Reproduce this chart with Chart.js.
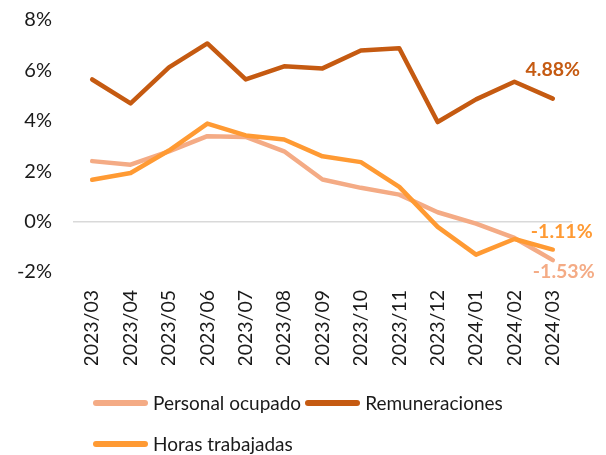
<!DOCTYPE html>
<html>
<head>
<meta charset="utf-8">
<script src="https://cdn.jsdelivr.net/npm/chart.js@4.4.1/dist/chart.umd.min.js"></script>
<style>
  html, body { margin: 0; padding: 0; background: #fff; }
  #wrap { position: relative; width: 606px; height: 455px; }
  #legend { position: absolute; left: 93px; top: 382px; width: 470px; display: flex; flex-wrap: wrap;
            font-family: Lato, "Open Sans", sans-serif; font-size: 19px; color: #1a1a1a; }
  .item { display: flex; align-items: center; height: 41px; margin-right: 4px; }
  .swatch { width: 55px; height: 6px; border-radius: 3px; margin-right: 5px; }
</style>
</head>
<body>
<div id="wrap">
  <canvas id="c" width="606" height="455"></canvas>
  <div id="legend"></div>
</div>
<script>
const categories = ["2023/03","2023/04","2023/05","2023/06","2023/07","2023/08","2023/09","2023/10","2023/11","2023/12","2024/01","2024/02","2024/03"];
const personalOcupado = [2.40, 2.26, 2.79, 3.39, 3.36, 2.79, 1.67, 1.34, 1.07, 0.37, -0.08, -0.65, -1.53];
const remuneraciones = [5.64, 4.69, 6.12, 7.07, 5.64, 6.16, 6.08, 6.79, 6.88, 3.95, 4.85, 5.55, 4.88];
const horasTrabajadas = [1.66, 1.93, 2.82, 3.89, 3.42, 3.26, 2.59, 2.36, 1.38, -0.21, -1.31, -0.69, -1.11];
const yTicks = [-2, 0, 2, 4, 6, 8];

const lastValuePlugin = {
  id: 'lastValue',
  afterDatasetsDraw(chart) {
    const ctx = chart.ctx;
    ctx.save();
    ctx.font = 'bold 19.5px Lato, "Open Sans", sans-serif';
    ctx.textBaseline = 'middle';
    chart.data.datasets.forEach((ds, i) => {
      const meta = chart.getDatasetMeta(i);
      const pt = meta.data[meta.data.length - 1];
      const v = ds.data[ds.data.length - 1];
      const txt = v.toFixed(2) + '%';
      ctx.fillStyle = ds.borderColor;
      let x = pt.x, y = pt.y;
      if (ds.labelPos === 'above') { ctx.textAlign = 'center'; y -= 29; }
      else if (ds.labelPos === 'right') { ctx.textAlign = 'left'; x -= 22; y -= 18; }
      else { ctx.textAlign = 'left'; x -= 20; y += 12; }
      ctx.fillText(txt, x, y);
    });
    ctx.restore();
  }
};

const chart = new Chart(document.getElementById('c'), {
  type: 'line',
  data: {
    labels: categories,
    datasets: [
      { label: 'Personal ocupado', data: personalOcupado, borderColor: '#F4AB85', backgroundColor: '#F4AB85', order: 2, labelPos: 'below' },
      { label: 'Remuneraciones', data: remuneraciones, borderColor: '#C55A11', backgroundColor: '#C55A11', order: 1, labelPos: 'above' },
      { label: 'Horas trabajadas', data: horasTrabajadas, borderColor: '#FF9A33', backgroundColor: '#FF9A33', order: 0, labelPos: 'right' }
    ]
  },
  options: {
    responsive: false,
    animation: false,
    elements: {
      line: { borderWidth: 4.5, tension: 0, borderCapStyle: 'round', borderJoinStyle: 'round' },
      point: { radius: 0, hoverRadius: 0 }
    },
    layout: { padding: { top: 20, right: 34, bottom: 90, left: 15 } },
    plugins: {
      legend: { display: false },
      tooltip: { enabled: false }
    },
    scales: {
      x: {
        offset: true,
        grid: { display: false, drawTicks: false },
        border: { display: false },
        afterFit(scale) { scale.paddingLeft = 0; scale.paddingRight = 0; scale.height = 93; },
        ticks: { maxRotation: 90, minRotation: 90, padding: 18, color: '#1a1a1a',
                 font: { family: 'Lato, "Open Sans", sans-serif', size: 19.5 } }
      },
      y: {
        min: -2, max: 8,
        afterBuildTicks(scale) { scale.ticks = yTicks.map(v => ({ value: v })); },
        afterFit(scale) { scale.paddingTop = 0; scale.paddingBottom = 0; scale.width = 58; },
        grid: { drawTicks: false, lineWidth: 1.5,
                color: c => (c.tick && c.tick.value === 0) ? '#D9D9D9' : 'rgba(0,0,0,0)' },
        border: { display: false },
        ticks: { padding: 21, crossAlign: 'near', color: '#1a1a1a',
                 font: { family: 'Lato, "Open Sans", sans-serif', size: 20 },
                 callback: v => v + '%' }
      }
    }
  },
  plugins: [lastValuePlugin]
});

const legendEl = document.getElementById('legend');
chart.data.datasets.forEach(ds => {
  const item = document.createElement('div');
  item.className = 'item';
  const sw = document.createElement('span');
  sw.className = 'swatch';
  sw.style.background = ds.borderColor;
  const tx = document.createElement('span');
  tx.textContent = ds.label;
  item.appendChild(sw);
  item.appendChild(tx);
  legendEl.appendChild(item);
});
</script>
</body>
</html>
